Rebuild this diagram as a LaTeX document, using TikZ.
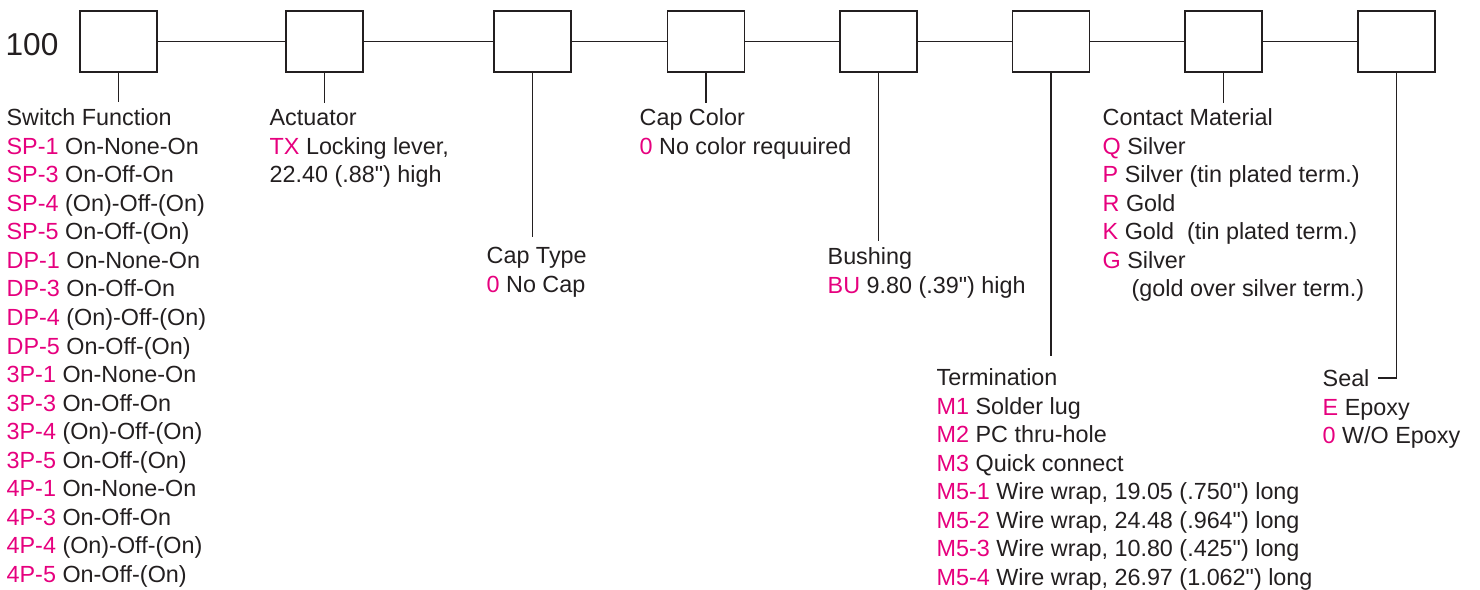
\documentclass[tikz,border=0pt]{standalone}
\usepackage{fontspec}
\setmainfont{Liberation Sans}[Ligatures=TeXOff]
\definecolor{codepink}{RGB}{230,0,126}
\definecolor{inkgrey}{RGB}{35,31,32}
\newcommand{\opt}[1]{\textcolor{codepink}{#1}}
\tikzset{
  partbox/.style={draw, minimum width=1.54cm, minimum height=1.22cm, inner sep=0pt},
  legend/.style={anchor=north west, align=left, inner sep=0pt,
    font=\fontsize{13.3}{16.25}\selectfont}
}
\begin{document}
\begin{tikzpicture}[x=0.02cm, y=-0.02cm, line width=0.75pt, color=inkgrey]
\useasboundingbox (0,0) rectangle (1480,589);

% Part number prefix
\node[anchor=base west, inner sep=0pt, font=\fontsize{18}{20}\selectfont] (prefix) at (5,55) {100};

% Code boxes
\node[partbox] (func) at (118.5,41.5) {};
\node[partbox] (act) at (324.5,41.5) {};
\node[partbox] (ctype) at (532.5,41.5) {};
\node[partbox] (ccolor) at (706,41.5) {};
\node[partbox] (bush) at (878.5,41.5) {};
\node[partbox] (term) at (1051,41.5) {};
\node[partbox] (cont) at (1223.5,41.5) {};
\node[partbox] (seal) at (1396.5,41.5) {};

% Chain between boxes
\draw (func) -- (act) -- (ctype) -- (ccolor) -- (bush) -- (term) -- (cont) -- (seal);

% Option lists
\node[legend] (funclist) at (6,108) {Switch Function\\
  \opt{SP-1} On-None-On\\ \opt{SP-3} On-Off-On\\ \opt{SP-4} (On)-Off-(On)\\ \opt{SP-5} On-Off-(On)\\
  \opt{DP-1} On-None-On\\ \opt{DP-3} On-Off-On\\ \opt{DP-4} (On)-Off-(On)\\ \opt{DP-5} On-Off-(On)\\
  \opt{3P-1} On-None-On\\ \opt{3P-3} On-Off-On\\ \opt{3P-4} (On)-Off-(On)\\ \opt{3P-5} On-Off-(On)\\
  \opt{4P-1} On-None-On\\ \opt{4P-3} On-Off-On\\ \opt{4P-4} (On)-Off-(On)\\ \opt{4P-5} On-Off-(On)};
\node[legend] (actlist) at (269,109) {Actuator\\ \opt{TX} Locking lever,\\ 22.40 (.88") high};
\node[legend] (ctypelist) at (486,247) {Cap Type\\ \opt{0} No Cap};
\node[legend] (ccolorlist) at (639,108) {Cap Color\\ \opt{0} No color requuired};
\node[legend] (bushlist) at (827,247) {Bushing\\ \opt{BU} 9.80 (.39") high};
\node[legend] (termlist) at (936,368) {Termination\\
  \opt{M1} Solder lug\\ \opt{M2} PC thru-hole\\ \opt{M3} Quick connect\\
  \opt{M5-1} Wire wrap, 19.05 (.750") long\\ \opt{M5-2} Wire wrap, 24.48 (.964") long\\
  \opt{M5-3} Wire wrap, 10.80 (.425") long\\ \opt{M5-4} Wire wrap, 26.97 (1.062") long};
\node[legend] (contlist) at (1102,108) {Contact Material\\
  \opt{Q} Silver\\ \opt{P} Silver (tin plated term.)\\ \opt{R} Gold\\
  \opt{K} Gold\ \ (tin plated term.)\\ \opt{G} Silver\\ \hspace*{0.58cm}(gold over silver term.)};
\node[legend] (seallist) at (1322,369) {Seal\\ \opt{E} Epoxy\\ \opt{0} W/O Epoxy};

% Leads from boxes to lists
\draw (func.south) -- ++(0,29);
\draw (act.south) -- ++(0,30);
\draw (ctype.south) -- ++(0,164);
\draw (ccolor.south) -- ++(0,30);
\draw (bush.south) -- ++(0,168);
\draw (term.south) -- ++(0,283);
\draw (cont.south) -- ++(0,30);
\coordinate (sealtap) at (1378,378);
\draw (seal.south) |- (sealtap);

\end{tikzpicture}
\end{document}
